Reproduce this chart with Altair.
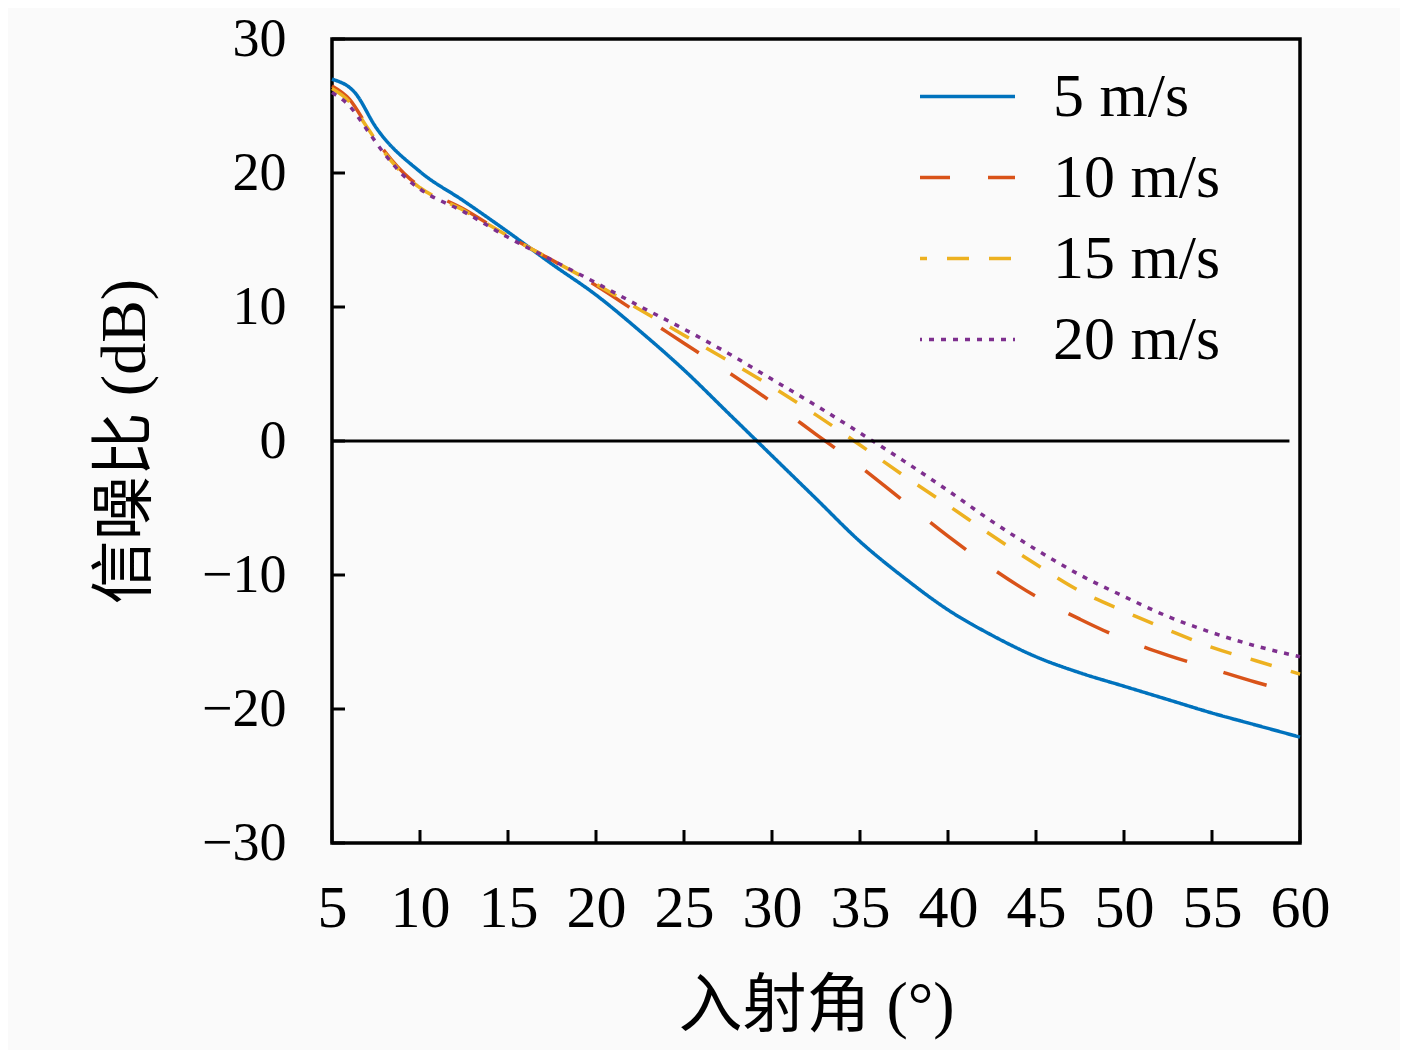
import pandas as pd
import altair as alt

# 入射角 (deg) and SNR (dB)
angle_5 = [5, 6.3, 7.5, 10, 12.5, 15, 17.5, 20, 22.5, 25, 27.5, 30, 32.5, 35, 37.5, 40,
           42.5, 45, 47.5, 50, 52.5, 55, 57.5, 60]
snr_5 = [27.0, 26.0, 23.4, 20.1, 17.9, 15.6, 13.2, 10.9, 8.2, 5.3, 2.1, -1.1, -4.3, -7.5,
         -10.2, -12.6, -14.5, -16.1, -17.3, -18.3, -19.3, -20.3, -21.2, -22.1]

angle_dash = [5, 6, 7, 8, 9.4, 10, 12.5, 15, 17.5, 20, 22.5, 25, 27.5, 30, 32.5, 35, 37.5,
              40, 42.5, 45, 47.5, 50, 52.5, 55, 57.5, 60]
snr_10 = [26.5, 25.5, 23.5, 21.6, 19.6, 19.0, 17.3, 15.3, 13.5, 11.6, 9.45, 7.3, 5.15, 2.9,
          0.5, -1.9, -4.5, -7.1, -9.5, -11.6, -13.3, -14.8, -16.0, -17.0, -18.0, -18.9]
snr_15 = [26.3, 25.3, 23.4, 21.5, 19.5, 18.9, 17.2, 15.3, 13.5, 11.7, 9.8, 7.9, 6.0, 4.05,
          1.95, -0.3, -2.6, -4.8, -7.05, -9.2, -11.2, -12.7, -14.1, -15.4, -16.4, -17.4]
snr_20 = [26.0, 25.0, 23.2, 21.4, 19.4, 18.8, 17.1, 15.2, 13.5, 11.8, 10.05, 8.35, 6.55, 4.6,
          2.65, 0.6, -1.5, -3.7, -6.0, -8.1, -10.0, -11.6, -13.1, -14.3, -15.3, -16.1]

speeds = ["5 m/s", "10 m/s", "15 m/s", "20 m/s"]
colors = ["#0072BD", "#D95319", "#EDB120", "#7E2F8E"]
dashes = [[1, 0], [45, 38], [22, 20], [5, 7]]

x_ticks = [5, 10, 15, 20, 25, 30, 35, 40, 45, 50, 55, 60]
y_ticks = [-30, -20, -10, 0, 10, 20, 30]
zero_x = [5, 59.4]

W, H = 968, 804
SERIF = "Liberation Serif"
CJK = "Liberation Serif, Noto Sans CJK SC"
X_TITLE = "入射角 (°)"
Y_TITLE = "信噪比 (dB)"

#long table of all four curves
frames = []
for name, xs, ys in [(speeds[0], angle_5, snr_5), (speeds[1], angle_dash, snr_10),
                     (speeds[2], angle_dash, snr_15), (speeds[3], angle_dash, snr_20)]:
    frames.append(pd.DataFrame({"angle": xs, "snr": ys, "speed": name}))
df = pd.concat(frames, ignore_index=True)

x_scale = alt.Scale(domain=[5, 60], nice=False, zero=False)
y_scale = alt.Scale(domain=[-30, 30], nice=False, zero=False)

x_axis = alt.Axis(values=x_ticks, grid=False, ticks=False, domain=False,
                  labelFontSize=60, labelFont=SERIF, labelPadding=36, labelColor="black",
                  labelOverlap=False, labelFlush=False,
                  titleFontSize=64, titleFont=CJK, titleFontWeight="normal",
                  titleColor="black", titlePadding=36)
y_axis = alt.Axis(values=y_ticks, grid=False, ticks=False, domain=False,
                  labelFontSize=54, labelFont=SERIF, labelPadding=46, labelColor="black",
                  labelOverlap=False, labelFlush=False,
                  titleFontSize=64, titleFont=CJK, titleFontWeight="normal",
                  titleColor="black", titlePadding=44)

lines = alt.Chart(df).mark_line(strokeWidth=3.5, interpolate="monotone").encode(
    alt.X("angle:Q", scale=x_scale, title=X_TITLE, axis=x_axis),
    alt.Y("snr:Q", scale=y_scale, title=Y_TITLE, axis=y_axis),
    alt.Color("speed:N", scale=alt.Scale(domain=speeds, range=colors),
              legend=alt.Legend(title="", orient="none", legendX=586, legendY=8,
                                symbolType="stroke", symbolSize=9025, symbolStrokeWidth=3.5,
                                symbolDashOffset=15,
                                labelFontSize=62, labelFont=SERIF, labelColor="black",
                                labelLimit=600, labelOffset=36, rowPadding=0)),
    alt.StrokeDash("speed:N", scale=alt.Scale(domain=speeds, range=dashes), legend=None),
    order=alt.Order("angle:Q")
)

#horizontal line at 0 dB
zero_df = pd.DataFrame({"x": zero_x, "y": [0, 0]})
zero_line = alt.Chart(zero_df).mark_line(color="black", strokeWidth=3).encode(
    alt.X("x:Q", scale=x_scale, title=X_TITLE, axis=x_axis),
    alt.Y("y:Q", scale=y_scale, title=Y_TITLE, axis=y_axis)
)

#inward ticks on bottom and left
xt = alt.Chart(pd.DataFrame({"t": x_ticks})).mark_rule(color="black", strokeWidth=3).encode(
    alt.X("t:Q", scale=x_scale, title=X_TITLE, axis=x_axis),
    y=alt.value(H), y2=alt.value(H - 13)
)
yt = alt.Chart(pd.DataFrame({"t": y_ticks})).mark_rule(color="black", strokeWidth=3).encode(
    alt.Y("t:Q", scale=y_scale, title=Y_TITLE, axis=y_axis),
    x=alt.value(0), x2=alt.value(13)
)

chart = alt.layer(lines, zero_line, xt, yt).properties(
    width=W, height=H,
    autosize=alt.AutoSizeParams(type="none"),
    padding={"left": 324, "top": 31, "right": 100, "bottom": 207},
    background="#fafafa"
).configure_view(stroke="black", strokeWidth=3.5)

chart.save("out.html", embed_options={"renderer": "svg", "actions": False})
